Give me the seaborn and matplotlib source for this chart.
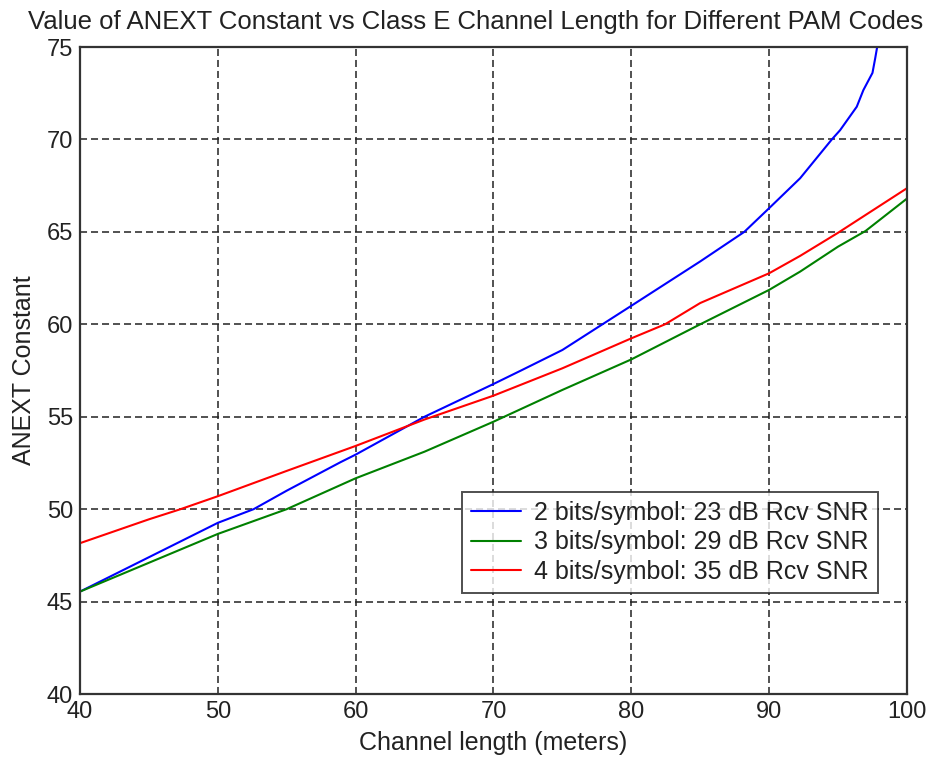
import pandas as pd
import seaborn as sns
import matplotlib.pyplot as plt

# values
length_2bit = [40, 45, 50, 52.6, 55, 58.9, 60, 65, 70, 72, 75, 80, 85, 88.2, 90, 92.25,
               94.55, 95.15, 96.36, 96.84, 97.5, 97.7, 97.84, 97.9]
anext_2bit = [45.54, 47.4, 49.26, 50.0, 51.0, 52.54, 52.95, 55.0, 56.77, 57.5, 58.61, 61.0,
              63.4, 65.0, 66.28, 67.9, 70.0, 70.5, 71.77, 72.67, 73.6, 74.4, 75.0, 76.0]

length_3bit = [40, 45, 50, 55, 60, 65, 70, 75, 80, 85, 90, 92.25, 95, 97, 100]
anext_3bit = [45.54, 47.1, 48.66, 50.0, 51.67, 53.11, 54.73, 56.45, 58.1, 60.0, 61.86,
              62.85, 64.2, 65.05, 66.8]

length_4bit = [40, 45, 47.3, 50, 55, 60, 65, 70, 75, 80, 82.45, 85, 90, 92.25, 95, 100]
anext_4bit = [48.16, 49.45, 50.0, 50.7, 52.07, 53.42, 54.85, 56.14, 57.62, 59.24, 60.0,
              61.15, 62.76, 63.7, 64.95, 67.36]

series_names = ['2 bits/symbol: 23 dB Rcv SNR',
                '3 bits/symbol: 29 dB Rcv SNR',
                '4 bits/symbol: 35 dB Rcv SNR']
series_colors = ['#0000ff', '#008000', '#ff0000']

x_ticks = [40, 50, 60, 70, 80, 90, 100]
y_ticks = [40, 45, 50, 55, 60, 65, 70, 75]

# long-form table for seaborn
frames = []
for name, xs, ys in zip(series_names,
                        [length_2bit, length_3bit, length_4bit],
                        [anext_2bit, anext_3bit, anext_4bit]):
    frames.append(pd.DataFrame({'length': xs, 'anext': ys, 'code': name}))
df = pd.concat(frames, ignore_index=True)

sns.set_style('white')
plt.rcParams['font.family'] = ['Liberation Sans', 'DejaVu Sans']

fig = plt.figure(figsize=(9.3, 7.63), dpi=100)
ax = fig.add_axes([0.086, 0.0904, 0.8892, 0.848])

sns.lineplot(data=df, x='length', y='anext', hue='code', hue_order=series_names,
             palette=series_colors, linewidth=1.5, sort=False, estimator=None,
             ax=ax)

ax.set_xlim(40, 100)
ax.set_ylim(40, 75)
ax.set_xticks(x_ticks)
ax.set_yticks(y_ticks)
ax.tick_params(axis='both', labelsize=17, direction='in', length=4,
               colors='#222222', width=1.2, pad=5)
ax.grid(True, color='#222222', linewidth=1.1, linestyle=(0, (4.6, 2.6)))
ax.set_axisbelow(True)
for s in ax.spines.values():
    s.set_color('#333333')
    s.set_linewidth(1.6)

ax.set_xlabel('Channel length (meters)', fontsize=18, color='#222222', labelpad=6)
ax.set_ylabel('ANEXT Constant', fontsize=18, color='#222222', labelpad=8)
ax.set_title('Value of ANEXT Constant vs Class E Channel Length for Different PAM Codes',
             fontsize=18.5, color='#222222', pad=13, x=0.478)

leg = ax.legend(loc='lower right', bbox_to_anchor=(0.9646, 0.1566), borderaxespad=0,
                fontsize=18, frameon=True, fancybox=False, handlelength=2.0,
                handletextpad=0.55, labelspacing=0.22, borderpad=0.35)
leg.get_frame().set_edgecolor('#222222')
leg.get_frame().set_linewidth(1.4)
for t in leg.get_texts():
    t.set_color('#222222')

fig.savefig('out.png', dpi=100)
